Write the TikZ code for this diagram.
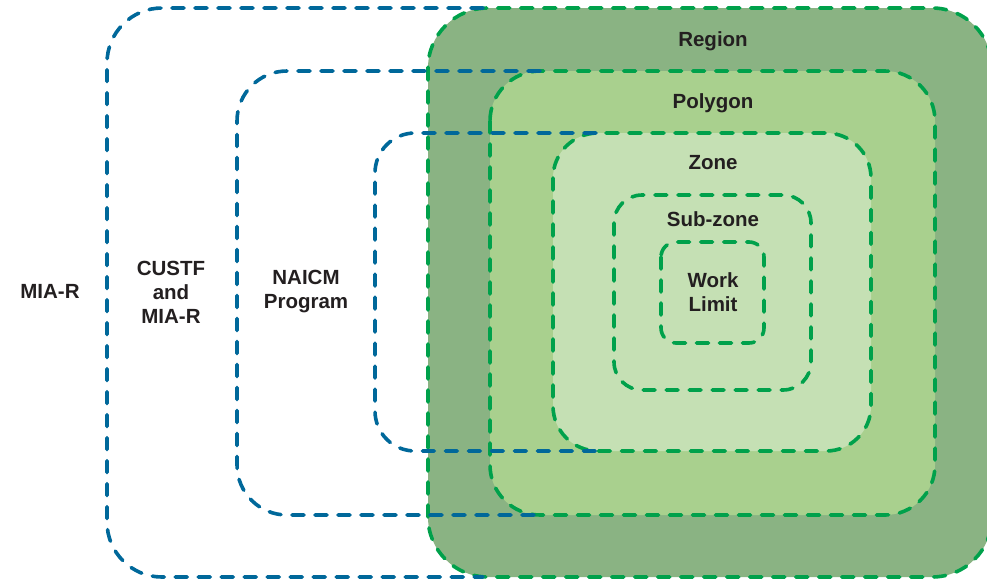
\documentclass[tikz,border=0pt]{standalone}
\usepackage{fontspec}
\setmainfont{Liberation Sans}
\definecolor{regionfill}{HTML}{8AB383}
\definecolor{polyfill}{HTML}{A9D08E}
\definecolor{zonefill}{HTML}{C5E0B4}
\definecolor{greenline}{HTML}{00A14B}
\definecolor{blueline}{HTML}{00689A}
\definecolor{txt}{HTML}{231F20}
\tikzset{
  greendash/.style={draw=greenline, line width=3.6pt, line cap=round, dash pattern=on 12pt off 11pt},
  bluedash/.style={draw=blueline, line width=3.6pt, line cap=round, dash pattern=on 12pt off 11pt},
  lbl/.style={font=\bfseries\fontsize{20.5}{24}\selectfont, text=txt, align=center, inner sep=0pt}
}
\begin{document}
\begin{tikzpicture}[x=1pt,y=-1pt]
\useasboundingbox (0,0) rectangle (987,579);
% green nested boxes
\path[greendash, fill=regionfill, rounded corners=60] (428,8) rectangle (992,577);
\path[greendash, fill=polyfill, rounded corners=50] (490,71) rectangle (935,515);
\path[greendash, fill=zonefill, rounded corners=45] (553,133) rectangle (871,451);
\path[greendash, fill=zonefill, rounded corners=28] (614,195) rectangle (811,390);
\path[greendash, fill=zonefill, rounded corners=15] (661,242) rectangle (764,343);
% blue open boxes
\draw[bluedash, rounded corners=55] (483,8) -- (107,8) -- (107,577) -- (483,577);
\draw[bluedash, rounded corners=50] (540,71) -- (237,71) -- (237,515) -- (540,515);
\draw[bluedash, rounded corners=40] (596,133) -- (375,133) -- (375,451) -- (596,451);
% labels
\node[lbl] (miar) at (50,291) {MIA-R};
\node[lbl] (custf) at (171,292) {CUSTF\\and\\MIA-R};
\node[lbl] (naicm) at (306,292) {NAICM\\Program};
\node[lbl] (region) at (713,41) {Region};
\node[lbl] (polygon) at (713,103) {Polygon};
\node[lbl] (zone) at (713,163) {Zone};
\node[lbl] (subzone) at (713,219) {Sub-zone};
\node[lbl] (work) at (713,292) {Work\\Limit};
\end{tikzpicture}
\end{document}
